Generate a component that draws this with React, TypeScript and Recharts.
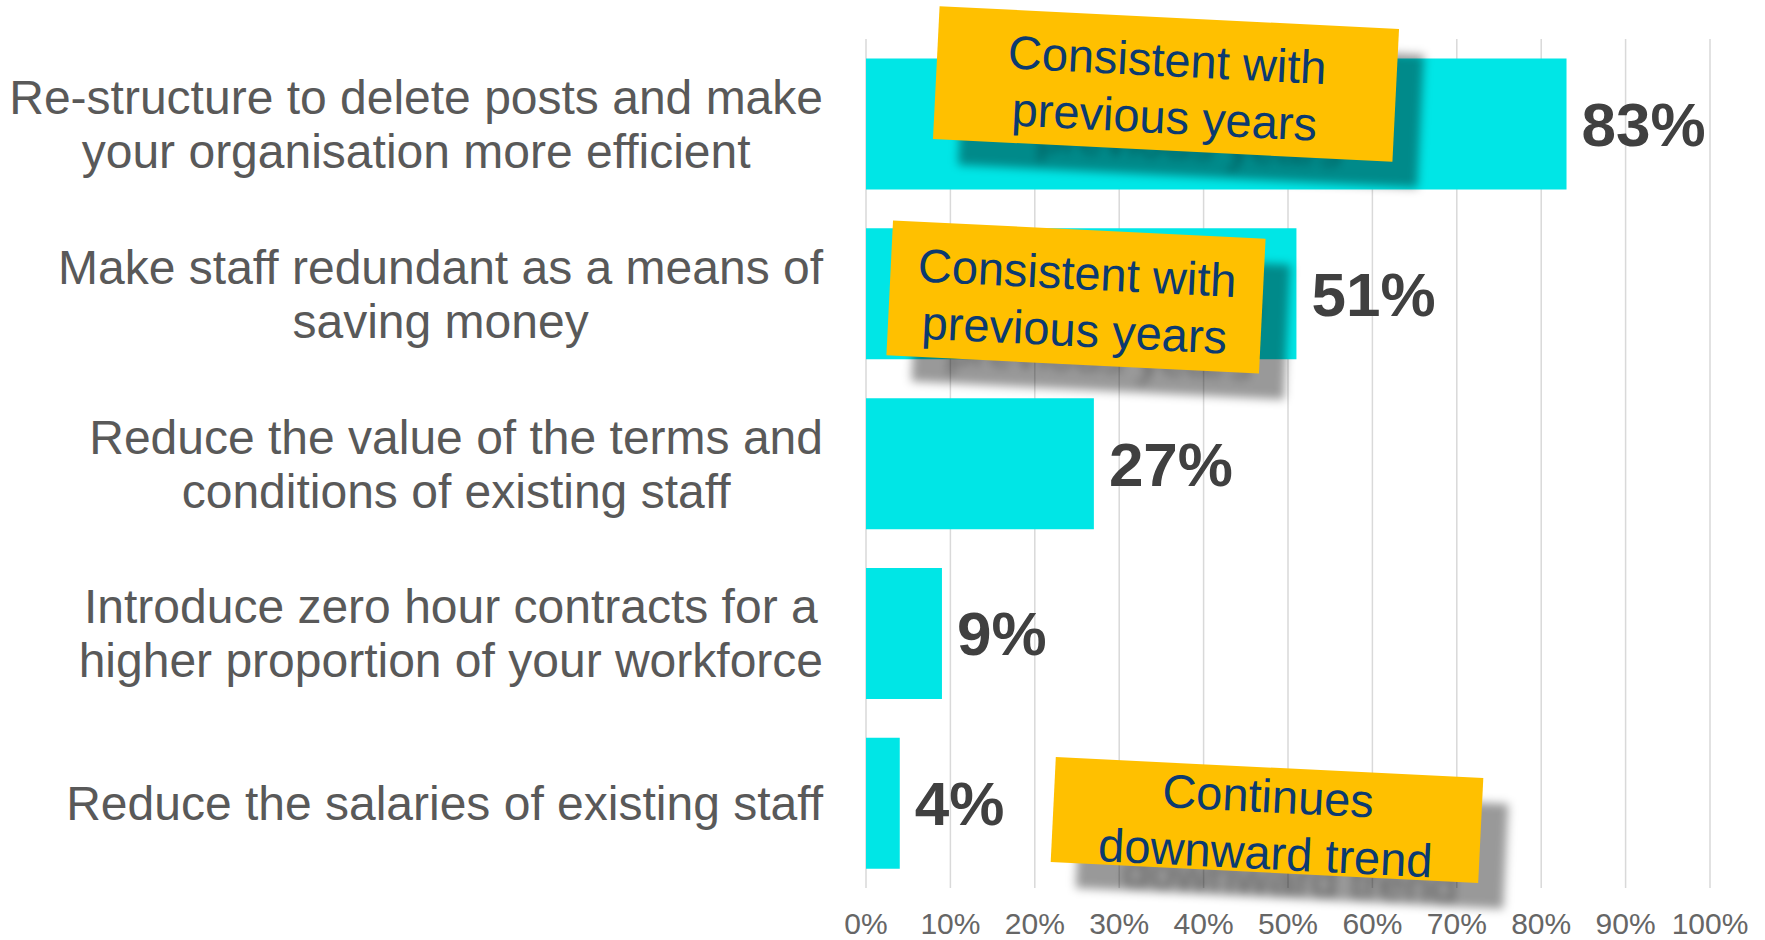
import { Bar, BarChart, CartesianGrid, LabelList, XAxis, YAxis } from "recharts";

const CATEGORIES = [
  "Re-structure to delete posts and make\nyour organisation more efficient",
  "Make staff redundant as a means of\nsaving money",
  "Reduce the value of the terms and\nconditions of existing staff",
  "Introduce zero hour contracts for a\nhigher proportion of your workforce",
  "Reduce the salaries of existing staff",
];
const VALUES = [83, 51, 27, 9, 4];
const X_TICKS = [0, 10, 20, 30, 40, 50, 60, 70, 80, 90, 100];
const NOTES = [
  ["Consistent with", "previous years"],
  ["Consistent with", "previous years"],
  ["Continues", "downward trend"],
];

const FONT = '"Liberation Sans", Arial, sans-serif';
const W = 1765;
const H = 940;

// callout boxes: centre, size, tilt
const NOTE_BOXES = [
  { cx: 1166, cy: 84, w: 460, h: 133, rot: 2.85 },
  { cx: 1076, cy: 297, w: 373, h: 135, rot: 2.8 },
  { cx: 1267, cy: 820, w: 428, h: 105, rot: 2.8 },
];

const data = CATEGORIES.map((name, i) => ({ name, value: VALUES[i] }));

let measureCtx: CanvasRenderingContext2D | null = null;
function textWidth(s: string, font: string) {
  if (!measureCtx) measureCtx = document.createElement("canvas").getContext("2d");
  if (!measureCtx) return s.length * 24;
  measureCtx.font = font;
  return measureCtx.measureText(s).width;
}

function CategoryTick(props: any) {
  const { x, y, payload } = props;
  const lines: string[] = String(payload.value).split("\n");
  const fs = 48;
  const maxW = Math.max(...lines.map((l) => textWidth(l, `${fs}px ${FONT}`)));
  const cx = x - maxW / 2;
  const lh = 54;
  return (
    <g>
      {lines.map((l, i) => (
        <text
          key={i}
          x={cx}
          y={y + (i - (lines.length - 1) / 2) * lh + fs * 0.355}
          textAnchor="middle"
          fontSize={fs}
          fontFamily={FONT}
          fill="#595959"
        >
          {l}
        </text>
      ))}
    </g>
  );
}

function Notes() {
  return (
    <svg width={W} height={H} style={{ position: "absolute", left: 0, top: 0, pointerEvents: "none" }}>
      <defs>
        <filter id="shadowBlur" x="-20%" y="-30%" width="140%" height="160%">
          <feGaussianBlur stdDeviation="5" />
        </filter>
      </defs>
      {NOTE_BOXES.map((b, i) => {
        const lines = NOTES[i];
        const fs = 47;
        const lh = 57;
        const textEls = (fill: string, op: number) =>
          lines.map((l, j) => (
            <text
              key={j}
              x={0}
              y={4 + (j - (lines.length - 1) / 2) * lh + fs * 0.355}
              textAnchor="middle"
              fontSize={fs}
              fontFamily={FONT}
              fill={fill}
              fillOpacity={op}
            >
              {l}
            </text>
          ));
        return (
          <g key={i}>
            <g transform={`translate(${b.cx + 25} ${b.cy + 26}) rotate(${b.rot})`} filter="url(#shadowBlur)">
              <rect x={-b.w / 2} y={-b.h / 2} width={b.w} height={b.h} fill="#000" fillOpacity={0.4} />
              {textEls("#000", 0.35)}
            </g>
            <g transform={`translate(${b.cx} ${b.cy}) rotate(${b.rot})`}>
              <rect x={-b.w / 2} y={-b.h / 2} width={b.w} height={b.h} fill="#FFC000" />
              {textEls("#0b3a70", 1)}
            </g>
          </g>
        );
      })}
    </svg>
  );
}

export default function App() {
  return (
    <div style={{ position: "absolute", left: 0, top: 0, width: W, height: H, background: "#fff" }}>
      <BarChart
        width={W}
        height={H}
        data={data}
        layout="vertical"
        margin={{ top: 39, right: 55, bottom: 0, left: 0 }}
        barCategoryGap="11.5%"
      >
        <CartesianGrid horizontal={false} stroke="#d9d9d9" strokeWidth={1.5} />
        <XAxis
          type="number"
          domain={[0, 100]}
          ticks={X_TICKS}
          tickFormatter={(v) => `${v}%`}
          axisLine={false}
          tickLine={false}
          tickSize={0}
          tickMargin={25}
          height={52}
          interval={0}
          tick={{ fontSize: 30, fill: "#666666", fontFamily: FONT }}
        />
        <YAxis
          type="category"
          dataKey="name"
          width={866}
          axisLine={false}
          tickLine={false}
          tickSize={0}
          tickMargin={43}
          interval={0}
          tick={<CategoryTick />}
        />
        <Bar dataKey="value" fill="#00E6E6" isAnimationActive={false}>
          <LabelList
            dataKey="value"
            position="right"
            offset={15}
            formatter={(v: any) => `${v}%`}
            style={{ fontSize: 62, fontWeight: 700, fill: "#404040", fontFamily: FONT }}
          />
        </Bar>
      </BarChart>
      <Notes />
    </div>
  );
}
